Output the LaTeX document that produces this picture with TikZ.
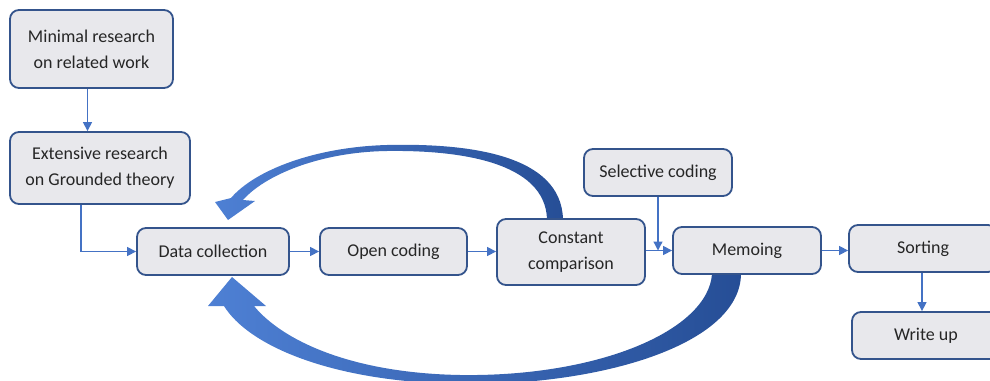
\documentclass[tikz,border=0pt]{standalone}
\usepackage{fontspec}
\setmainfont{Carlito}
\usetikzlibrary{arrows.meta}
\definecolor{boxfill}{RGB}{232,232,236}
\definecolor{boxline}{RGB}{52,84,140}
\definecolor{pfeil}{RGB}{68,114,196}
\definecolor{bogenhell}{RGB}{78,128,212}
\definecolor{bogendunkel}{RGB}{38,78,150}

\begin{document}
\begin{tikzpicture}[x=1pt, y=-1pt,
    kasten/.style={draw=boxline, line width=1.8pt, fill=boxfill, rounded corners=9pt,
        align=center, inner sep=0pt, text=black!85, font=\fontsize{18}{26}\selectfont},
    link/.style={pfeil, line width=1.3pt, -{Triangle[length=9pt, width=9pt]}}]

    \useasboundingbox (0,0) rectangle (990,380);

    % big feedback arrows, behind the boxes
    \shade[left color=bogenhell, right color=bogendunkel]
        (563,219) .. controls (561,155) and (470,143) .. (387,145)
        .. controls (315,147) and (255,170) .. (231,198)
        -- (215,202) -- (228,220) -- (255,201) -- (243,200)
        .. controls (265,175) and (320,152) .. (387,151)
        .. controls (460,150) and (545,162) .. (547,219) -- cycle;
    \shade[left color=bogenhell, right color=bogendunkel]
        (741,274) .. controls (740,345) and (600,386) .. (460,384)
        .. controls (330,382) and (248,345) .. (224,306)
        -- (208,306) -- (232,277) -- (266,306) -- (254,306)
        .. controls (282,340) and (350,373) .. (460,375)
        .. controls (600,377) and (708,330) .. (712,274) -- cycle;

    \node[kasten, minimum width=163pt, minimum height=78pt] (minimal) at (91.5,49) {Minimal research\\on related work};
    \node[kasten, minimum width=180pt, minimum height=72pt] (extensive) at (100,168) {Extensive research\\on Grounded theory};
    \node[kasten, minimum width=152pt, minimum height=47pt] (data) at (213,251.5) {Data collection};
    \node[kasten, minimum width=147pt, minimum height=47pt] (open) at (393.5,251.5) {Open coding};
    \node[kasten, minimum width=148pt, minimum height=66pt] (constant) at (571,252) {Constant\\comparison};
    \node[kasten, minimum width=148pt, minimum height=47pt] (selective) at (658,172.5) {Selective coding};
    \node[kasten, minimum width=148pt, minimum height=47pt] (memoing) at (747,250.5) {Memoing};
    \node[kasten, minimum width=148pt, minimum height=47pt] (sorting) at (923,248.5) {Sorting};
    \node[kasten, minimum width=148pt, minimum height=47pt] (writeup) at (926,335.5) {Write up};

    \draw[link] ([xshift=-4pt]minimal.south) -- ([xshift=-4pt]minimal.south |- extensive.north);
    \draw[link] ([xshift=-19pt]extensive.south) |- (data.west);
    \draw[link] (data.east) -- (open.west);
    \draw[link] (open.east) -- (open.east -| constant.west);
    \draw[link] (constant.east |- memoing.west) -- (memoing.west);
    \draw[link] (selective.south) -- (selective.south |- memoing.west);
    \draw[link] (memoing.east) -- (memoing.east -| sorting.west);
    \draw[link] ([xshift=-1pt]sorting.south) -- ([xshift=-1pt]sorting.south |- writeup.north);

\end{tikzpicture}
\end{document}
